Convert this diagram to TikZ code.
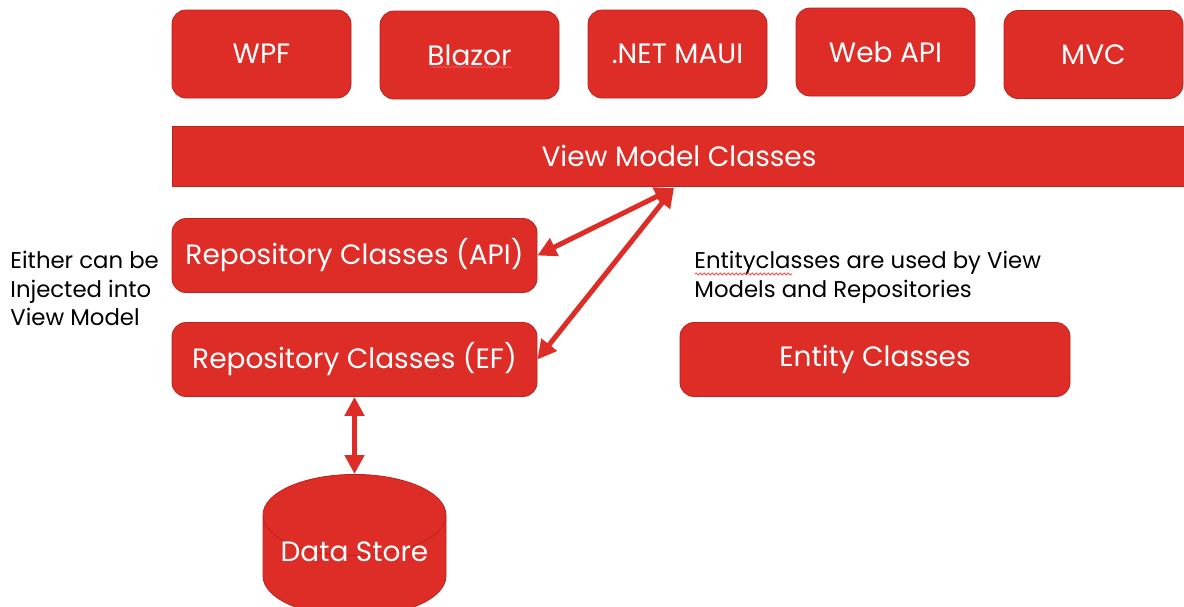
\documentclass[tikz,border=0pt]{standalone}
\usepackage{fontspec}
\setmainfont{Poppins}
\usetikzlibrary{shapes.geometric, arrows.meta, decorations.pathmorphing, positioning}
\definecolor{boxred}{RGB}{222,44,39}
\definecolor{edgered}{RGB}{185,36,32}

\begin{document}
\begin{tikzpicture}[x=0.5pt, y=-0.5pt,
    box/.style={draw=edgered, fill=boxred, rounded corners=7pt, text=white,
      inner sep=0pt, font=\fontsize{14}{17}\selectfont},
    topbox/.style={box, minimum width=89.5pt, minimum height=44pt},
    repobox/.style={box, minimum width=182.5pt, minimum height=37pt},
    note/.style={inner sep=0pt, align=left, font=\fontsize{11.4}{14.2}\selectfont},
    link/.style={draw=boxred, line width=2.5pt,
      {Triangle[length=9.5pt, width=9.5pt]}-{Triangle[length=9.5pt, width=9.5pt]}},
    squiggle/.style={draw=red!70, line width=0.4pt, decorate,
      decoration={snake, amplitude=0.5pt, segment length=2pt}}]
  \clip (0,0) rectangle (1184,606);
  \useasboundingbox (0,0) rectangle (1184,606);

  % front ends
  \node [topbox] (wpf)    at (261.5,54)  {WPF};
  \node [topbox] (blazor) at (469.5,55)  {Blazor};
  \node [topbox] (maui)   at (677.5,54)  {.NET MAUI};
  \node [topbox] (webapi) at (885.5,52)  {Web API};
  \node [topbox] (mvc)    at (1093.5,54.5) {MVC};
  \draw [squiggle] (431,67) -- (512,67);

  % view models
  \node [box, rounded corners=0pt, minimum width=507pt, minimum height=30pt]
    (vm) at (679,156) {View Model Classes};
  \coordinate (hub) at (674,188);

  % repositories
  \node [repobox] (api) at (354.5,255.5) {Repository Classes (API)};
  \node [repobox] (ef)  at (354.5,359.5) {Repository Classes (EF)};
  \node [repobox, minimum width=195pt] (entity) at (875,359.5) {Entity Classes};

  \node [note, anchor=north west] (either) at (10,251)
    {Either can be\\Injected into\\View Model};
  \node [note, anchor=north west] (uses) at (694,251)
    {Entityclasses are used by View\\Models and Repositories};
  \draw [squiggle] (695,274) -- (792,274);

  % storage
  \node [cylinder, shape border rotate=90, aspect=0.55, draw=edgered, fill=boxred,
    minimum width=91.5pt, minimum height=65pt, inner sep=0pt, anchor=north,
    font=\fontsize{14}{17}\selectfont] (store) at (354.5,474) {\phantom{Data Store}};
  \node [text=white, inner sep=0pt, font=\fontsize{14}{17}\selectfont]
    (storename) at (354.5,552) {Data Store};

  \draw [link] (hub) -- (api.east);
  \draw [link] (hub) -- (ef.east);
  \draw [link] (ef.south) -- (store.north);
\end{tikzpicture}
\end{document}
